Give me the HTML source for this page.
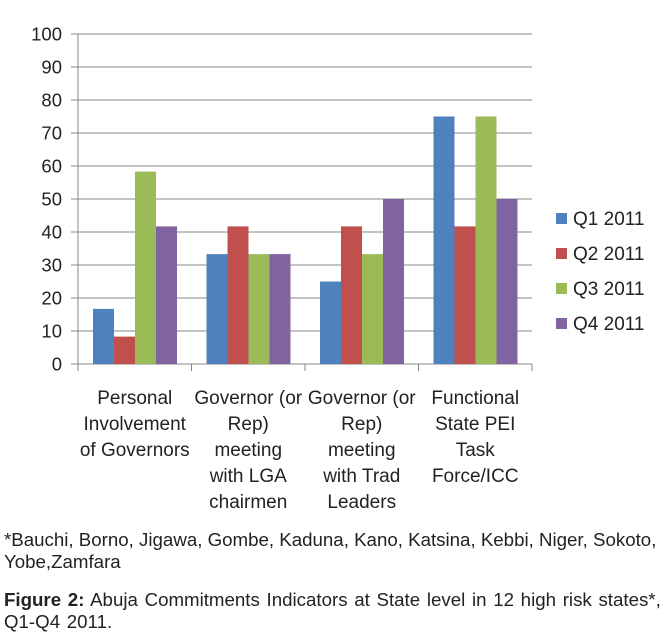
<!DOCTYPE html>
<html><head><meta charset="utf-8"><style>
body{margin:0;background:#fff;width:666px;height:640px;overflow:hidden;font-family:"Liberation Sans",sans-serif}
svg text{font-family:"Liberation Sans",sans-serif}
.cap{position:absolute;left:4px;width:660px;color:#222;font-size:18.7px;line-height:22px}
</style></head><body>
<svg id="c" width="666" height="520" style="position:absolute;left:0;top:0"></svg>
<div class="cap" style="top:529px">*Bauchi, Borno, Jigawa, Gombe, Kaduna, Kano, Katsina, Kebbi, Niger, Sokoto, Yobe,Zamfara</div>
<div class="cap" style="top:589px;word-spacing:1.5px"><b>Figure 2:</b> Abuja Commitments Indicators at State level in 12 high risk states*,<br>Q1-Q4 2011.</div>
<script>
const categories=[["Personal","Involvement","of Governors"],["Governor (or","Rep)","meeting","with LGA","chairmen"],["Governor (or","Rep)","meeting","with Trad","Leaders"],["Functional","State PEI","Task","Force/ICC"]];
const seriesNames=["Q1 2011","Q2 2011","Q3 2011","Q4 2011"];
const q1=[16.7,33.3,25,75];
const q2=[8.3,41.7,41.7,41.7];
const q3=[58.3,33.3,33.3,75];
const q4=[41.7,33.3,50,50];
const yTicks=[0,10,20,30,40,50,60,70,80,90,100];
const series=[q1,q2,q3,q4];
const colors=["#4f81bd","#c0504d","#9bbb59","#8064a2"];
const svg=document.getElementById('c');const NS="http://www.w3.org/2000/svg";
const x0=78,x1=532,yb=364,yt=34,cw=(x1-x0)/categories.length;
const y=v=>yb-(v/100)*(yb-yt);
function mk(t,a,p){const e=document.createElementNS(NS,t);for(const k in a)e.setAttribute(k,a[k]);(p||svg).appendChild(e);return e;}
yTicks.forEach(v=>{
 const g=mk('line',{x1:71,x2:x1,y1:y(v),y2:y(v),stroke:'#888','stroke-width':1});
 
 
 const t=mk('text',{x:62,y:y(v)+6.5,'text-anchor':'end','font-size':18.5,fill:'#222'});t.textContent=v;
 
 
});
mk('line',{x1:x0,x2:x0,y1:yt,y2:yb+7,stroke:'#888'});
categories.forEach((c,i)=>{
 const cx=x0+cw*(i+1);
 mk('line',{x1:cx,x2:cx,y1:yb,y2:yb+7,stroke:'#888'});
 series.forEach((s,j)=>{
  const bx=x0+cw*i+15+j*21;
  const r=mk('rect',{x:bx,y:y(s[i]),width:21,height:yb-y(s[i]),fill:colors[j]});
  
  
 });
 c.forEach((ln,k)=>{
  const t=mk('text',{x:x0+cw*(i+0.5),y:404+k*26,'text-anchor':'middle','font-size':19,fill:'#222'});t.textContent=ln;
  
  
 });
});
seriesNames.forEach((n,j)=>{
 const ly=225+j*35;
 const r=mk('rect',{x:556,y:ly-12,width:11,height:11,fill:colors[j]});
 
 
 const t=mk('text',{x:573,y:ly,'font-size':19,fill:'#222'});t.textContent=n;
 
 
});
</script>
</body></html>
